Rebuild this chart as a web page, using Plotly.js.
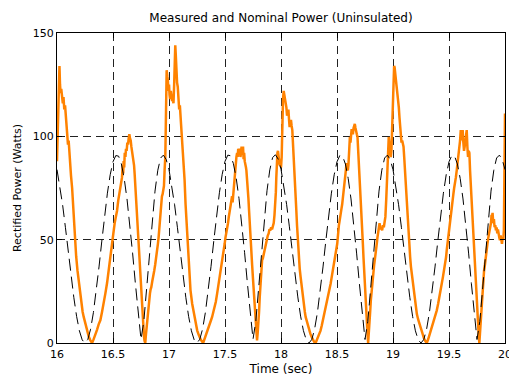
<!DOCTYPE html>
<html>
<head>
<meta charset="utf-8">
<script src="https://cdn.plot.ly/plotly-3.0.1.min.js"></script>
<style>
html,body{margin:0;padding:0;background:#fff;overflow:hidden;}
#chart{width:509px;height:376px;}
</style>
</head>
<body>
<div id="chart"></div>
<script>
// ---------------- DATA ----------------
const chartTitle = 'Measured and Nominal Power (Uninsulated)';
const xTitle = 'Time (sec)';
const yTitle = 'Rectified Power (Watts)';
const xTicks = [16, 16.5, 17, 17.5, 18, 18.5, 19, 19.5, 20];
const yTicks = [0, 50, 100, 150];

// Nominal power, sampled every 0.025 s starting at 16.0 s
const nominalStart = 16.0;
const nominalStep = 0.025;
const nominalPower = [
  83.9,76.4,66.9,56.0,44.3,32.8,22.1,12.9,5.9,1.5,
  0,1.7,6.7,14.7,25.0,36.8,49.3,61.4,72.5,81.4,87.7,90.7,90.4,86.6,79.6,69.7,57.4,43.5,28.7,14.2,
  1.7,10.4,27.0,44.1,60.0,73.5,83.6,89.5,90.9,88.8,83.9,76.4,66.9,56.0,44.3,32.8,22.1,12.9,5.9,1.5,
  0,1.8,6.8,14.8,25.2,37.0,49.5,61.6,72.7,81.6,87.9,90.9,90.6,86.8,79.8,69.9,57.6,43.7,28.9,14.4,
  1.8,10.5,27.2,44.3,60.2,73.7,83.8,89.7,91.1,89.0,84.1,76.6,67.1,56.2,44.5,33.0,22.3,13.0,6.0,1.6,
  0,1.7,6.7,14.7,25.0,36.8,49.3,61.4,72.5,81.4,87.7,90.7,90.4,86.6,79.6,69.7,57.4,43.5,28.7,14.2,
  1.7,10.4,27.0,44.1,60.0,73.5,83.6,89.5,90.9,88.8,83.9,76.4,66.9,56.0,44.3,32.8,22.1,12.9,5.9,1.5,
  0,1.7,6.7,14.7,25.0,36.8,49.3,61.4,72.5,81.4,87.7,90.7,90.4,86.6,79.6,69.7,57.4,43.5,28.7,14.2,
  1.7,10.4,27.0,44.1,60.0,73.5,83.6,89.5,90.9,88.8,83.9
];

// Measured power (time in s, power in W)
const measTime = [
  16.000,16.008,16.016,16.022,16.027,16.032,16.038,16.045,16.052,16.058,
  16.065,16.072,16.080,16.087,16.093,16.098,16.104,16.110,16.118,16.125,
  16.135,16.145,16.152,16.159,16.171,16.183,16.195,16.207,16.218,16.229,
  16.239,16.254,16.269,16.284,16.298,16.313,16.325,16.337,16.348,16.358,
  16.372,16.387,16.402,16.417,16.432,16.447,16.460,16.470,16.481,16.491,
  16.503,16.515,16.526,16.536,16.547,16.557,16.568,16.580,16.587,16.591,
  16.595,16.600,16.605,16.611,16.616,16.622,16.628,16.634,16.640,16.646,
  16.652,16.658,16.664,16.670,16.676,16.682,16.688,16.693,16.699,16.705,
  16.711,16.717,16.723,16.729,16.735,16.741,16.747,16.752,16.759,16.765,
  16.771,16.777,16.782,16.788,16.794,16.800,16.806,16.812,16.818,16.824,
  16.830,16.836,16.842,16.851,16.860,16.868,16.877,16.886,16.895,16.901,
  16.907,16.913,16.919,16.925,16.931,16.937,16.943,16.949,16.955,16.961,
  16.967,16.970,16.973,16.976,16.979,16.985,16.990,16.995,17.000,17.005,
  17.010,17.016,17.022,17.028,17.034,17.040,17.046,17.050,17.056,17.060,
  17.064,17.068,17.072,17.078,17.084,17.091,17.097,17.103,17.109,17.115,
  17.120,17.127,17.133,17.139,17.148,17.157,17.169,17.180,17.192,17.207,
  17.222,17.237,17.252,17.267,17.285,17.305,17.326,17.340,17.352,17.364,
  17.375,17.385,17.396,17.406,17.418,17.430,17.442,17.454,17.464,17.474,
  17.483,17.490,17.497,17.504,17.512,17.519,17.527,17.534,17.541,17.548,
  17.556,17.563,17.568,17.573,17.579,17.584,17.589,17.593,17.598,17.602,
  17.608,17.613,17.618,17.623,17.628,17.633,17.638,17.643,17.648,17.654,
  17.661,17.666,17.671,17.676,17.682,17.687,17.691,17.697,17.703,17.709,
  17.715,17.721,17.727,17.734,17.742,17.750,17.757,17.764,17.771,17.776,
  17.780,17.786,17.792,17.798,17.804,17.810,17.816,17.822,17.827,17.831,
  17.838,17.846,17.853,17.861,17.868,17.875,17.882,17.890,17.897,17.905,
  17.912,17.920,17.928,17.935,17.942,17.950,17.954,17.958,17.961,17.964,
  17.968,17.973,17.977,17.982,17.988,17.994,18.000,18.006,18.012,18.018,
  18.024,18.030,18.036,18.042,18.048,18.054,18.060,18.066,18.072,18.077,
  18.083,18.089,18.095,18.101,18.107,18.112,18.116,18.121,18.125,18.131,
  18.137,18.143,18.149,18.154,18.160,18.167,18.175,18.183,18.190,18.198,
  18.205,18.213,18.220,18.228,18.235,18.243,18.250,18.262,18.273,18.285,
  18.297,18.309,18.321,18.333,18.343,18.353,18.364,18.374,18.386,18.398,
  18.410,18.422,18.432,18.443,18.453,18.463,18.472,18.481,18.487,18.493,
  18.498,18.502,18.507,18.511,18.517,18.523,18.529,18.535,18.540,18.546,
  18.553,18.561,18.568,18.576,18.580,18.585,18.591,18.597,18.602,18.606,
  18.610,18.615,18.620,18.625,18.630,18.636,18.642,18.648,18.654,18.659,
  18.665,18.671,18.677,18.683,18.689,18.695,18.701,18.707,18.713,18.719,
  18.725,18.731,18.737,18.742,18.748,18.754,18.760,18.766,18.772,18.778,
  18.784,18.790,18.796,18.802,18.808,18.814,18.820,18.826,18.832,18.837,
  18.843,18.849,18.855,18.861,18.867,18.873,18.880,18.888,18.895,18.903,
  18.910,18.918,18.925,18.932,18.940,18.947,18.952,18.956,18.962,18.967,
  18.971,18.976,18.980,18.986,18.992,18.999,19.005,19.010,19.014,19.019,
  19.023,19.028,19.034,19.040,19.046,19.052,19.058,19.064,19.070,19.076,
  19.082,19.088,19.094,19.100,19.105,19.109,19.114,19.118,19.124,19.129,
  19.135,19.141,19.147,19.153,19.160,19.168,19.175,19.183,19.190,19.198,
  19.206,19.213,19.224,19.236,19.247,19.257,19.268,19.278,19.290,19.302,
  19.314,19.325,19.336,19.346,19.357,19.367,19.379,19.391,19.403,19.415,
  19.425,19.435,19.446,19.456,19.465,19.474,19.480,19.486,19.492,19.498,
  19.504,19.510,19.517,19.524,19.531,19.539,19.546,19.554,19.561,19.569,
  19.576,19.584,19.589,19.593,19.599,19.605,19.609,19.613,19.618,19.622,
  19.628,19.634,19.640,19.646,19.652,19.658,19.664,19.670,19.676,19.682,
  19.688,19.694,19.700,19.706,19.711,19.717,19.723,19.729,19.735,19.741,
  19.747,19.753,19.759,19.765,19.771,19.777,19.783,19.789,19.795,19.801,
  19.806,19.813,19.821,19.828,19.836,19.843,19.851,19.858,19.866,19.871,
  19.875,19.880,19.884,19.889,19.895,19.901,19.907,19.913,19.919,19.925,
  19.931,19.937,19.943,19.949,19.955,19.961,19.967,19.973,19.979,19.985,
  19.990,19.995,20.000
];
const measPower = [
  88,110,130,134,125,121,123,120,116,119,
  113,115,108,103,100,96,98,91,84,81,
  75,64,58,50,42,35,29,23,19,15,
  12.5,9,6,3,1.3,0,1.5,3,5,6.5,
  9,11,15,19,24,29,34,38,43,48,
  53,58,61,64,69,72,76,80,86,82,
  88,85,92,90,94,93,97,96,99,101,
  99,98,95,93,91,88,86,82,76,71,
  64,58,52,46,40,35,29,24,18,12.5,
  7,3,1,0,4,8,12,16,19,22,
  24,26,27,30,32,35,38,41,45,48,
  51,55,61,66,71,71,72,74,76,84,
  90,100,111,122,132,129,127,122,125,120,
  118,122,120,117,118,116,125,135,144,140,
  130,132,126,124,118,113,115,110,106,102,
  96,90,84,79,67,58,46,35,25.5,19,
  14,9,6,3.7,1.5,0,3,5,7,9,
  11,12.6,15,17,20,24,28,32,36,40,
  43,46,48,51,53,56,58,61,64,67,
  69,71,68,72,75,77,84,87,89,90,
  92,90,94,93,91,94,90,92,95,91,
  95,89,92,88,87,85,83.5,80,75.5,70,
  64,57,51,44,38,31,25.5,19,12.6,7,
  4.5,1.3,5,9,15,22,28,33.5,37,40,
  41,43,46,48,50,51,52,53,55,54.5,
  56,55,57,58,62,67,73,80,86,90,
  92,93,91,88,86,87,85,90,111,118,
  122,120,119,116,114,110,111,113,108,104.5,
  106,108,105,103,96.5,92,87,82,77,70,
  64,57,51,46,41.6,36,32,28,24,20,
  17.4,15,12.6,11,9.4,7.5,6,4.5,3,1.5,
  0.5,0,1.5,3,4.5,6,8.5,11,13,15.8,
  19,22,25.5,28.7,32,35,38,41.6,43,45,
  46,48,51,54.5,57,59,62,64,65,67,
  70,74,77,80,84,87,85,83.5,86,90,
  95,99.7,97,101,103,103,101,104,105,106,
  104,103,101,99.7,94,87,80,74,67,61,
  54,48,41,35,28,22,16,11,5,0,
  4,9,15,20.6,25,28.7,32,35,38,40,
  42,45,48,51,53,56,58,55,56,54.5,
  57,56,59,61,70,78.7,84,90,99.7,97,
  95,92,90,93,103,119,132,134,133.5,131,
  130,128,125.5,122,119,114,109,104,99.7,97,
  98,96.5,95,90,85,80,75,70.6,65,59,
  54,49.7,45,41.6,37,33.5,29,25.5,22,19,
  16,14,11.5,9.4,7,5.3,3.5,2,0.8,0,
  1.8,3.7,5.3,7,9,11,13.5,15.8,19,22,
  25.5,28.7,32,35,38,41.6,45,48,51,54.5,
  57,59,62,66,69,72,75,77,80,83.5,
  87,90,92,93,98,103,100,98,101,103,
  97,93,95,98,100,103,95,90,93,92,
  83.5,77,70.6,64,57.7,51,45,38,32,25,
  19,14,9.4,4,0,5,9.4,16,22,27,
  32,35,38,42,45,48,51,54,56,57,
  58,62,61,63,58,60,56,57,54.5,56,
  53,55,52,51,49.7,52,50,48,51,50,
  54.5,80,111
];

// ---------------- CHART ----------------
const fontFamily = 'DejaVu Sans, Arial, sans-serif';

const traces = [
  {
    type: 'scatter', mode: 'lines',
    x: measTime, y: measPower,
    line: {color: '#ff8200', width: 2.5},
    hoverinfo: 'skip'
  },
  {
    type: 'scatter', mode: 'lines',
    x0: nominalStart, dx: nominalStep, y: nominalPower,
    line: {color: '#000000', width: 1, dash: '12px,6px'},
    hoverinfo: 'skip'
  }
];

const axisCommon = {
  showline: true, linecolor: '#000', linewidth: 1, mirror: 'ticks',
  ticks: 'inside', ticklen: 5, tickwidth: 1, tickcolor: '#000',
  showgrid: true, gridcolor: '#222', gridwidth: 1, griddash: '8px,5px',
  zeroline: false,
  tickfont: {family: fontFamily, size: 11, color: '#000'}
};

const layout = {
  width: 509, height: 376,
  margin: {l: 57, r: 4, t: 33, b: 33},
  paper_bgcolor: '#ffffff', plot_bgcolor: '#ffffff',
  showlegend: false,
  title: {
    text: chartTitle,
    font: {family: fontFamily, size: 12, color: '#000'},
    x: 0.5, xref: 'paper', xanchor: 'center',
    y: 0.952, yref: 'container', yanchor: 'middle'
  },
  xaxis: Object.assign({}, axisCommon, {
    range: [16, 20], tickvals: xTicks,
    ticklabeloverflow: 'allow',
    ticklabelstandoff: 1,
    title: {text: xTitle, font: {family: fontFamily, size: 12, color: '#000'}, standoff: 5}
  }),
  yaxis: Object.assign({}, axisCommon, {
    range: [0, 150], tickvals: yTicks,
    title: {text: yTitle, font: {family: fontFamily, size: 11, color: '#000'}, standoff: 8}
  })
};

Plotly.newPlot('chart', traces, layout, {staticPlot: true, displayModeBar: false});
</script>
</body>
</html>
